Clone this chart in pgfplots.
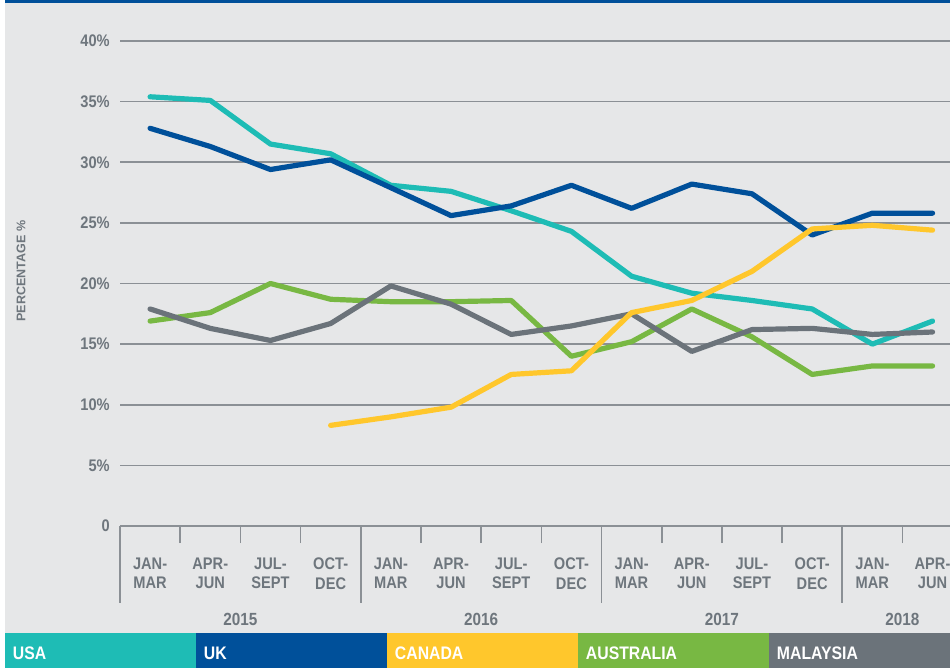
\documentclass[border=0pt]{standalone}
\usepackage{fontspec}
\setmainfont[FakeStretch=0.87]{Liberation Sans}
\newfontfamily\labfont{Liberation Sans}
\usepackage{pgfplots}
\pgfplotsset{compat=1.18}
\definecolor{bg}{HTML}{E6E7E8}
\definecolor{gridgrey}{HTML}{8B9095}
\definecolor{tgrey}{HTML}{6E767D}
\definecolor{usac}{HTML}{1EBCB5}
\definecolor{ukc}{HTML}{00509A}
\definecolor{canc}{HTML}{FFC72C}
\definecolor{ausc}{HTML}{78B843}
\definecolor{malc}{HTML}{6B737A}
\begin{document}
\begin{tikzpicture}[x=0.75pt,y=0.75pt]
\path[use as bounding box] (0,0) rectangle (950,668);
\fill[bg] (5,35) rectangle (950,668);
\fill[ukc] (5,664.5) rectangle (950,668);
\node[rotate=90, font=\labfont\fontsize{9.4}{11}\selectfont\bfseries, text=tgrey] at (21,397) {PERCENTAGE \%};
\begin{axis}[
  at={(90pt,106.5pt)}, anchor=south west,
  scale only axis, width=622.5pt, height=363.75pt,
  xmin=-0.5, xmax=13.29, ymin=0, ymax=40,
  clip=false,
  axis x line*=bottom, axis y line*=left,
  y axis line style={draw=none},
  x axis line style={draw=gridgrey, line width=1.2pt},
  ytick={0,5,...,40},
  yticklabels={\textbf{0},\textbf{5\%},\textbf{10\%},\textbf{15\%},\textbf{20\%},\textbf{25\%},\textbf{30\%},\textbf{35\%},\textbf{40\%}},
  ytick style={draw=none},
  ymajorgrids, grid style={gridgrey, line width=1.2pt},
  yticklabel style={font=\fontsize{12.6}{14}\selectfont\bfseries, text=tgrey, anchor=east, inner sep=0pt, xshift=50.25pt},
  xtick={-0.5,3.5,7.5,11.5}, xticklabels={},
  minor xtick={0.5,1.5,2.5,4.5,5.5,6.5,8.5,9.5,10.5,12.5},
  tick align=outside,
  major tick length=57.75pt, minor tick length=12.75pt,
  xtick style={draw=gridgrey, line width=1.2pt},
  extra x ticks={0,1,...,13},
  extra x tick labels={\textbf{JAN-}\\\textbf{MAR},\textbf{APR-}\\\textbf{JUN},\textbf{JUL-}\\\textbf{SEPT},\textbf{OCT-}\\\textbf{DEC},\textbf{JAN-}\\\textbf{MAR},\textbf{APR-}\\\textbf{JUN},\textbf{JUL-}\\\textbf{SEPT},\textbf{OCT-}\\\textbf{DEC},\textbf{JAN-}\\\textbf{MAR},\textbf{APR-}\\\textbf{JUN},\textbf{JUL-}\\\textbf{SEPT},\textbf{OCT-}\\\textbf{DEC},\textbf{JAN-}\\\textbf{MAR},\textbf{APR-}\\\textbf{JUN}},
  extra x tick style={major tick length=0pt, tick style={draw=none},
    xticklabel style={font=\fontsize{12.6}{14.3}\selectfont\bfseries, text=tgrey, align=center, anchor=north, inner sep=0pt, yshift=-24pt}},
  every axis plot/.append style={line width=3.9pt, line cap=round, line join=round},
]
\addplot[usac] coordinates {(0,35.4)(1,35.1)(2,31.5)(3,30.7)(4,28.1)(5,27.6)(6,26.0)(7,24.3)(8,20.6)(9,19.2)(10,18.6)(11,17.9)(12,15.0)(13,16.9)};
\addplot[ukc] coordinates {(0,32.8)(1,31.3)(2,29.4)(3,30.2)(4,27.9)(5,25.6)(6,26.4)(7,28.1)(8,26.2)(9,28.2)(10,27.4)(11,24.0)(12,25.8)(13,25.8)};
\addplot[ausc] coordinates {(0,16.9)(1,17.6)(2,20.0)(3,18.7)(4,18.5)(5,18.5)(6,18.6)(7,14.0)(8,15.2)(9,17.9)(10,15.6)(11,12.5)(12,13.2)(13,13.2)};
\addplot[malc] coordinates {(0,17.9)(1,16.3)(2,15.3)(3,16.7)(4,19.8)(5,18.3)(6,15.8)(7,16.5)(8,17.5)(9,14.4)(10,16.2)(11,16.3)(12,15.8)(13,16.0)};
\addplot[canc] coordinates {(3,8.3)(4,9.0)(5,9.8)(6,12.5)(7,12.8)(8,17.6)(9,18.6)(10,21.0)(11,24.5)(12,24.8)(13,24.4)};
\node[font=\fontsize{13.2}{15}\selectfont\bfseries, text=tgrey] at (axis cs:1.5,0) [yshift=-69.75pt] {2015};
\node[font=\fontsize{13.2}{15}\selectfont\bfseries, text=tgrey] at (axis cs:5.5,0) [yshift=-69.75pt] {2016};
\node[font=\fontsize{13.2}{15}\selectfont\bfseries, text=tgrey] at (axis cs:9.5,0) [yshift=-69.75pt] {2017};
\node[font=\fontsize{13.2}{15}\selectfont\bfseries, text=tgrey] at (axis cs:12.5,0) [yshift=-69.75pt] {2018};
\end{axis}
\fill[usac] (5,0) rectangle (196,35);
\fill[ukc] (196,0) rectangle (387,35);
\fill[canc] (387,0) rectangle (578,35);
\fill[ausc] (578,0) rectangle (769,35);
\fill[malc] (769,0) rectangle (950,35);
\begin{scope}[every node/.style={anchor=base west, inner sep=0pt, text=white, font=\fontsize{13.6}{16}\selectfont\bfseries}]
\node at (12.7,9) {USA};
\node at (203.7,9) {UK};
\node at (394.7,9) {CANADA};
\node at (585.7,9) {AUSTRALIA};
\node at (776.7,9) {MALAYSIA};
\end{scope}
\end{tikzpicture}
\end{document}
